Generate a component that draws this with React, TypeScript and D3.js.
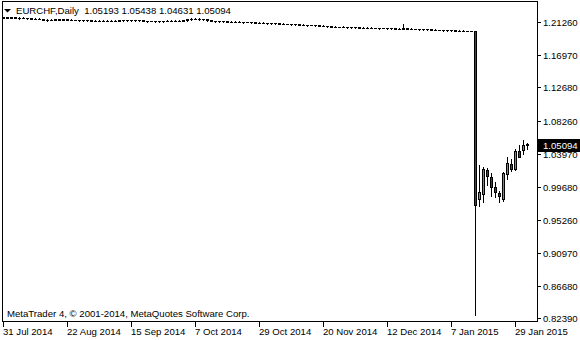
import React from "react";
import * as d3 from "d3";

const title = "EURCHF,Daily  1.05193 1.05438 1.04631 1.05094";
const copyright = "MetaTrader 4, \u00A9 2001-2014, MetaQuotes Software Corp.";
const lastPrice = 1.05094;
const lastPriceLabel = "1.05094";

const dateLabels = ["31 Jul 2014", "22 Aug 2014", "15 Sep 2014", "7 Oct 2014", "29 Oct 2014", "20 Nov 2014", "12 Dec 2014", "7 Jan 2015", "29 Jan 2015"];
const dateBars = [0, 16, 32, 48, 64, 80, 96, 112, 128];

const priceTicks = [1.2126, 1.1697, 1.1268, 1.0826, 1.0397, 0.9968, 0.9526, 0.9097, 0.8668, 0.8239];
const priceLabels = ["1.21260", "1.16970", "1.12680", "1.08260", "1.03970", "0.99680", "0.95260", "0.90970", "0.86680", "0.82390"];

// daily closes 31 Jul 2014 .. 3 Feb 2015
const closes = [
  1.2188, 1.2184, 1.2186, 1.2180, 1.2176, 1.2179, 1.2172, 1.2168, 1.2170, 1.2165,
  1.2156, 1.2150, 1.2155, 1.2160, 1.2157, 1.2159, 1.2154, 1.2150, 1.2152, 1.2148,
  1.2150, 1.2146, 1.2142, 1.2144, 1.2140, 1.2143, 1.2139, 1.2141, 1.2138, 1.2147,
  1.2150, 1.2147, 1.2151, 1.2149, 1.2152, 1.2140, 1.2137, 1.2139, 1.2135, 1.2138,
  1.2136, 1.2140, 1.2143, 1.2141, 1.2145, 1.2148, 1.2160, 1.2165, 1.2168, 1.2163,
  1.2160, 1.2148, 1.2140, 1.2136, 1.2133, 1.2135, 1.2130, 1.2128, 1.2130, 1.2126,
  1.2124, 1.2127, 1.2122, 1.2118, 1.2115, 1.2113, 1.2110, 1.2112, 1.2108, 1.2104,
  1.2101, 1.2098, 1.2096, 1.2093, 1.2090, 1.2088, 1.2084, 1.2086, 1.2081, 1.2077,
  1.2072, 1.2068, 1.2065, 1.2063, 1.2060, 1.2062, 1.2058, 1.2055, 1.2057, 1.2053,
  1.2050, 1.2052, 1.2049, 1.2046, 1.2044, 1.2047, 1.2043, 1.2041, 1.2039, 1.2040,
  1.2045, 1.2040, 1.2037, 1.2035, 1.2032, 1.2030, 1.2028, 1.2026, 1.2024, 1.2021,
  1.2019, 1.2017, 1.2015, 1.2013, 1.2012, 1.2011, 1.2010, 1.2010, 0.9725, 0.9896,
  1.0204, 1.0106, 0.9965, 0.9896, 0.9850, 1.0141, 1.0272, 1.0198, 1.0440, 1.0359,
  1.0512, 1.05094,
];
const opens = [
  1.2183, 1.2188, 1.2184, 1.2186, 1.2180, 1.2176, 1.2179, 1.2172, 1.2168, 1.2170,
  1.2165, 1.2156, 1.2150, 1.2155, 1.2160, 1.2157, 1.2159, 1.2154, 1.2150, 1.2152,
  1.2148, 1.2150, 1.2146, 1.2142, 1.2144, 1.2140, 1.2143, 1.2139, 1.2141, 1.2138,
  1.2147, 1.2150, 1.2147, 1.2151, 1.2149, 1.2152, 1.2140, 1.2137, 1.2139, 1.2135,
  1.2138, 1.2136, 1.2140, 1.2143, 1.2141, 1.2145, 1.2148, 1.2160, 1.2165, 1.2168,
  1.2163, 1.2160, 1.2148, 1.2140, 1.2136, 1.2133, 1.2135, 1.2130, 1.2128, 1.2130,
  1.2126, 1.2124, 1.2127, 1.2122, 1.2118, 1.2115, 1.2113, 1.2110, 1.2112, 1.2108,
  1.2104, 1.2101, 1.2098, 1.2096, 1.2093, 1.2090, 1.2088, 1.2084, 1.2086, 1.2081,
  1.2077, 1.2072, 1.2068, 1.2065, 1.2063, 1.2060, 1.2062, 1.2058, 1.2055, 1.2057,
  1.2053, 1.2050, 1.2052, 1.2049, 1.2046, 1.2044, 1.2047, 1.2043, 1.2041, 1.2039,
  1.2040, 1.2045, 1.2040, 1.2037, 1.2035, 1.2032, 1.2030, 1.2028, 1.2026, 1.2024,
  1.2021, 1.2019, 1.2017, 1.2015, 1.2013, 1.2012, 1.2011, 1.2010, 1.2010, 0.9804,
  0.9870, 1.0191, 1.0097, 0.9961, 0.9883, 0.9804, 1.0128, 1.0259, 1.0198, 1.0440,
  1.0453, 1.05193,
];
const highs = [
  1.2195, 1.2194, 1.2192, 1.2190, 1.2186, 1.2185, 1.2184, 1.2178, 1.2176, 1.2175,
  1.2168, 1.2162, 1.2160, 1.2166, 1.2166, 1.2164, 1.2165, 1.2160, 1.2158, 1.2158,
  1.2156, 1.2155, 1.2152, 1.2150, 1.2148, 1.2149, 1.2148, 1.2146, 1.2146, 1.2152,
  1.2158, 1.2156, 1.2157, 1.2157, 1.2158, 1.2156, 1.2145, 1.2144, 1.2143, 1.2143,
  1.2143, 1.2146, 1.2149, 1.2148, 1.2150, 1.2154, 1.2166, 1.2172, 1.2176, 1.2172,
  1.2168, 1.2163, 1.2150, 1.2144, 1.2140, 1.2140, 1.2139, 1.2134, 1.2135, 1.2133,
  1.2130, 1.2132, 1.2130, 1.2125, 1.2122, 1.2120, 1.2118, 1.2117, 1.2116, 1.2112,
  1.2108, 1.2105, 1.2102, 1.2100, 1.2097, 1.2094, 1.2092, 1.2091, 1.2089, 1.2085,
  1.2080, 1.2075, 1.2072, 1.2069, 1.2066, 1.2067, 1.2065, 1.2061, 1.2061, 1.2060,
  1.2056, 1.2056, 1.2055, 1.2052, 1.2049, 1.2051, 1.2050, 1.2046, 1.2044, 1.2043,
  1.2095, 1.2050, 1.2044, 1.2040, 1.2038, 1.2035, 1.2033, 1.2031, 1.2029, 1.2027,
  1.2024, 1.2022, 1.2020, 1.2018, 1.2016, 1.2015, 1.2014, 1.2013, 1.2012, 1.0250,
  1.0224, 1.0217, 1.0149, 1.0027, 0.9913, 1.0162, 1.0355, 1.0329, 1.0456, 1.0506,
  1.0582, 1.05438,
];
const lows = [
  1.2178, 1.2179, 1.2180, 1.2175, 1.2171, 1.2172, 1.2168, 1.2164, 1.2165, 1.2160,
  1.2150, 1.2145, 1.2146, 1.2150, 1.2152, 1.2152, 1.2149, 1.2146, 1.2146, 1.2143,
  1.2144, 1.2141, 1.2137, 1.2138, 1.2135, 1.2136, 1.2134, 1.2135, 1.2133, 1.2135,
  1.2142, 1.2141, 1.2143, 1.2144, 1.2145, 1.2136, 1.2131, 1.2133, 1.2130, 1.2131,
  1.2131, 1.2133, 1.2137, 1.2136, 1.2138, 1.2141, 1.2145, 1.2156, 1.2160, 1.2158,
  1.2155, 1.2145, 1.2135, 1.2131, 1.2128, 1.2129, 1.2125, 1.2123, 1.2124, 1.2121,
  1.2119, 1.2120, 1.2117, 1.2113, 1.2110, 1.2108, 1.2105, 1.2106, 1.2103, 1.2099,
  1.2096, 1.2093, 1.2091, 1.2088, 1.2085, 1.2083, 1.2079, 1.2080, 1.2076, 1.2072,
  1.2067, 1.2063, 1.2060, 1.2058, 1.2055, 1.2057, 1.2053, 1.2050, 1.2051, 1.2048,
  1.2045, 1.2047, 1.2044, 1.2041, 1.2039, 1.2041, 1.2038, 1.2036, 1.2034, 1.2035,
  1.2036, 1.2035, 1.2032, 1.2030, 1.2027, 1.2025, 1.2023, 1.2021, 1.2019, 1.2016,
  1.2014, 1.2012, 1.2010, 1.2009, 1.2008, 1.2007, 1.2007, 1.2006, 0.8282, 0.9712,
  0.9765, 0.9988, 0.9843, 0.9830, 0.9769, 0.9784, 1.0060, 1.0171, 1.0185, 1.0351,
  1.0398, 1.04631,
];

const W = 580;
const H = 340;
const FONT = "'Liberation Sans', Arial, sans-serif";
const FS = 9.6;

export default function App() {
  const n = closes.length;
  const x = d3.scaleLinear().domain([0, n - 1]).range([3, 3 + 4 * (n - 1)]);
  const y = d3.scaleLinear().domain([0.8204, 1.2388]).range([321, 2]);

  const candles = d3.range(n).map((i) => {
    const c = Math.round(x(i));
    const yo = Math.round(y(opens[i]));
    const yc = Math.round(y(closes[i]));
    const yh = Math.round(y(highs[i]));
    const yl = Math.round(y(lows[i]));
    const top = Math.min(yo, yc);
    const bot = Math.max(yo, yc);
    const color = closes[i] > opens[i] ? "#00e000" : "#e00000";
    return (
      <g key={i}>
        <line x1={c + 0.5} x2={c + 0.5} y1={yh} y2={yl + 1} stroke="#000" strokeWidth={1} />
        {bot - top >= 1 ? (
          <rect x={c - 0.5} y={top + 0.5} width={2} height={bot - top} fill={color} stroke="#000" strokeWidth={1} />
        ) : (
          <line x1={c - 1} x2={c + 2} y1={top + 0.5} y2={top + 0.5} stroke="#000" strokeWidth={1} />
        )}
      </g>
    );
  });

  const yLast = Math.round(y(lastPrice));

  return (
    <svg
      width={W}
      height={H}
      style={{ position: "absolute", left: 0, top: 0, display: "block", background: "#fff" }}
      fontFamily={FONT}
      fontSize={FS}
      shapeRendering="crispEdges"
    >
      <rect x={0} y={0} width={W} height={H} fill="#fff" />
      <rect x={2.5} y={1.5} width={535} height={320} fill="none" stroke="#000" strokeWidth={1} />
      {candles}
      <path d="M4,9 L11,9 L7.5,12.5 Z" fill="#000" shapeRendering="auto" />
      <text x={16} y={14} fill="#000" xmlSpace="preserve" style={{ whiteSpace: "pre" }}>
        {title}
      </text>
      <text x={7} y={317} fill="#000">
        {copyright}
      </text>
      {priceTicks.map((v, i) => {
        const yy = Math.round(y(v));
        return (
          <g key={"p" + i}>
            <line x1={538} x2={541} y1={yy + 0.5} y2={yy + 0.5} stroke="#000" />
            <text x={543} y={yy + 4} fill="#000">
              {priceLabels[i]}
            </text>
          </g>
        );
      })}
      <rect x={538} y={yLast - 6} width={42} height={13} fill="#000" />
      <text x={543} y={yLast + 4} fill="#fff">
        {lastPriceLabel}
      </text>
      {dateBars.map((b, i) => {
        const c = Math.round(x(b));
        return (
          <g key={"d" + i}>
            <line x1={c + 0.5} x2={c + 0.5} y1={322} y2={327} stroke="#000" />
            <text x={c} y={335} fill="#000">
              {dateLabels[i]}
            </text>
          </g>
        );
      })}
    </svg>
  );
}
